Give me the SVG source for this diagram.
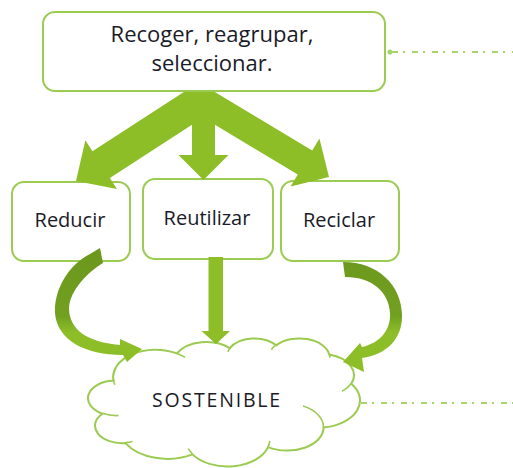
<svg xmlns="http://www.w3.org/2000/svg" width="513" height="468" viewBox="0 0 513 468">
<defs>
<style>
.box{fill:#fff;stroke:#9BCB50;stroke-width:2}
.lbl{font-family:"Open Sans","Liberation Sans",sans-serif;fill:#1a1a28;text-anchor:middle}
.arr{fill:#8DBE28}
.dash{stroke:#A8D46C;stroke-width:2;stroke-dasharray:6 5 2 7;fill:none}
.fold{fill:none;stroke:#9BCB50;stroke-width:1.6}
</style>
<linearGradient id="gC" x1="0" y1="250" x2="0" y2="360" gradientUnits="userSpaceOnUse">
<stop offset="0" stop-color="#6C971E"/>
<stop offset="0.6" stop-color="#72A020"/>
<stop offset="0.75" stop-color="#8DBE28"/>
<stop offset="1" stop-color="#8DBE28"/>
</linearGradient>
</defs>
<rect width="513" height="468" fill="#fff"/>

<g id="node-reducir">
<rect class="box" x="12" y="182" width="118" height="79" rx="12"/>
<text class="lbl" x="70" y="227" font-size="20">Reducir</text>
</g>
<g id="node-reutilizar">
<rect class="box" x="143" y="179" width="130" height="80" rx="12"/>
<text class="lbl" x="207" y="225" font-size="20">Reutilizar</text>
</g>
<g id="node-reciclar">
<rect class="box" x="281" y="181" width="118" height="80" rx="12"/>
<text class="lbl" x="339" y="227" font-size="20">Reciclar</text>
</g>
<g id="node-sostenible">
<g transform="matrix(1.0218 0 0 1 -7.95 0)">
<path class="box" d="M118.92,380.58 A41.43,27.23 0 0 1 180.91,353.41 A32.71,21.53 0 0 1 232.76,348.17 A26.78,17.62 0 0 1 278.01,345.34 A29.79,19.54 0 0 1 330.06,354.51 A32.71,21.55 0 0 1 351.53,383.80 A41.56,27.32 0 0 1 324.46,427.49 A35.49,23.31 0 0 1 270.18,447.07 A41.42,27.30 0 0 1 196.11,454.34 A47.36,31.24 0 0 1 130.62,443.09 A26.75,17.54 0 0 1 107.97,413.70 A26.65,17.62 0 0 1 118.92,380.58 Z"/>
<path class="fold" d="M123.79,415.56 A26.65,17.62 0 0 1 108.25,413.20 M137.50,441.41 A26.75,17.54 0 0 1 130.70,442.54 M196.08,453.82 A41.42,27.30 0 0 1 191.98,448.66 M271.83,440.97 A41.42,27.30 0 0 1 270.20,446.62 M304.36,406.01 A35.49,23.31 0 0 1 324.30,427.16 M351.40,383.49 A32.71,21.55 0 0 1 342.52,391.42 M330.09,354.08 A29.79,19.54 0 0 1 330.56,357.82 M273.37,349.71 A29.79,19.54 0 0 1 277.93,344.93 M230.82,351.99 A26.78,17.62 0 0 1 233.02,347.87 M180.88,353.38 A41.43,27.23 0 0 1 188.86,357.38 M120.32,384.78 A41.43,27.23 0 0 1 118.92,380.58"/>
</g>
<text class="lbl" x="217" y="407" font-size="19.5" letter-spacing="1.8">SOSTENIBLE</text>
</g>

<g id="connectors">
<polygon class="arr" transform="translate(76,181) rotate(147)" points="0,0 -30,29 -30,16 -150,16 -150,-16 -30,-16 -30,-29"/>
<polygon class="arr" transform="translate(329,177) rotate(31)" points="0,0 -28,28 -28,14 -145,14 -145,-14 -28,-14 -28,-28"/>
<polygon class="arr" points="192,92 215,92 215,155 228.5,155 203.5,180 178.5,155 192,155"/>
<polygon class="arr" points="208.5,257 223,257 223,331 230,331 216,344 201.5,331 208.5,331"/>
<path fill="url(#gC)" d="M100,248 L103,263 C88,272 70,290 69,308 C69,328 85,342 120,345 L120,339 L142,349 L127,362 L123,355 C85,355 57,340 55,313 C54,288 70,264 90,254 Z"/>
<path fill="url(#gC)" d="M343,262 C378,262 401,285 402,314 C403,340 385,355 362,358 L364,372 L343,362 L360,343 L362,347 C380,343 391,330 390,313 C389,293 373,277 345,277 Z"/>
<line class="dash" x1="392" y1="52" x2="513" y2="52"/>
<circle cx="390" cy="52" r="2.6" fill="#A8D46C"/>
<line class="dash" x1="361" y1="403" x2="513" y2="403"/>
</g>

<g id="node-recoger">
<rect class="box" x="43" y="12" width="342" height="79" rx="12"/>
<text class="lbl" x="212" y="42" font-size="22">Recoger, reagrupar,</text>
<text class="lbl" x="212" y="71" font-size="22">seleccionar.</text>
</g>
</svg>
